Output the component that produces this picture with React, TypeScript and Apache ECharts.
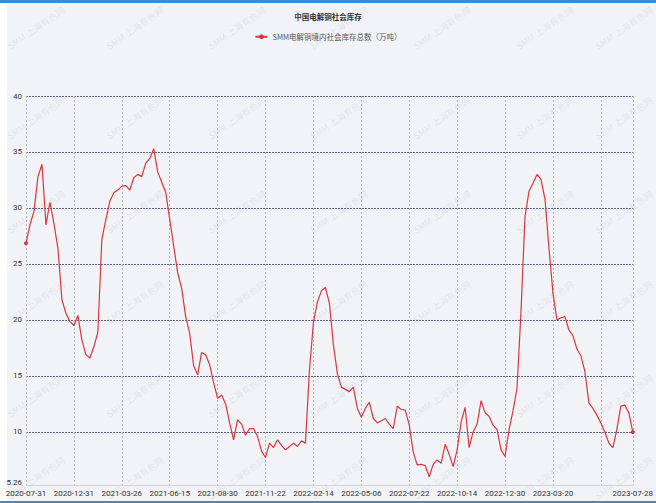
import React, { useEffect, useRef } from 'react';
import * as echarts from 'echarts';

const chartTitle = '中国电解铜社会库存';
const seriesName = 'SMM电解铜境内社会库存总数（万吨）';
const watermarkText = 'SMM 上海有色网';

const categories = [
  '2020-07-31', '2020-08-13', '2020-08-26', '2020-09-08', '2020-09-21', '2020-10-09', '2020-10-22', '2020-11-03', '2020-11-16', '2020-11-27', '2020-12-10', '2020-12-21', '2020-12-31',
  '2021-01-07', '2021-01-14', '2021-01-21', '2021-01-28', '2021-02-04', '2021-02-11', '2021-02-18', '2021-02-25', '2021-03-04', '2021-03-11', '2021-03-18', '2021-03-26',
  '2021-04-01', '2021-04-08', '2021-04-15', '2021-04-22', '2021-04-29', '2021-05-06', '2021-05-13', '2021-05-20', '2021-05-27', '2021-06-03', '2021-06-10', '2021-06-15',
  '2021-06-21', '2021-06-28', '2021-07-05', '2021-07-12', '2021-07-19', '2021-07-26', '2021-08-02', '2021-08-09', '2021-08-16', '2021-08-19', '2021-08-23', '2021-08-30',
  '2021-09-06', '2021-09-13', '2021-09-20', '2021-09-27', '2021-10-08', '2021-10-11', '2021-10-18', '2021-10-25', '2021-11-01', '2021-11-08', '2021-11-15', '2021-11-22',
  '2021-11-29', '2021-12-06', '2021-12-13', '2021-12-20', '2021-12-27', '2022-01-03', '2022-01-10', '2022-01-17', '2022-01-24', '2022-01-31', '2022-02-07', '2022-02-14',
  '2022-02-21', '2022-02-28', '2022-03-07', '2022-03-14', '2022-03-21', '2022-03-28', '2022-04-04', '2022-04-11', '2022-04-18', '2022-04-25', '2022-04-29', '2022-05-06',
  '2022-05-12', '2022-05-19', '2022-05-26', '2022-06-02', '2022-06-09', '2022-06-16', '2022-06-23', '2022-06-30', '2022-07-07', '2022-07-11', '2022-07-18', '2022-07-22',
  '2022-07-29', '2022-08-05', '2022-08-12', '2022-08-19', '2022-08-26', '2022-09-02', '2022-09-09', '2022-09-16', '2022-09-23', '2022-09-30', '2022-10-07', '2022-10-14',
  '2022-10-20', '2022-10-27', '2022-11-03', '2022-11-10', '2022-11-17', '2022-11-24', '2022-12-01', '2022-12-08', '2022-12-15', '2022-12-19', '2022-12-22', '2022-12-30',
  '2023-01-05', '2023-01-12', '2023-01-19', '2023-01-30', '2023-02-02', '2023-02-09', '2023-02-16', '2023-02-23', '2023-03-02', '2023-03-09', '2023-03-16', '2023-03-20',
  '2023-03-27', '2023-04-03', '2023-04-10', '2023-04-17', '2023-04-24', '2023-05-04', '2023-05-11', '2023-05-18', '2023-05-25', '2023-06-01', '2023-06-05', '2023-06-08',
  '2023-06-12', '2023-06-19', '2023-06-26', '2023-07-03', '2023-07-10', '2023-07-17', '2023-07-24', '2023-07-28',
];

const inventory = [
  26.85, 28.5, 29.7, 32.8, 33.9, 28.5, 30.5, 28.6, 26.4, 21.8, 20.6, 19.85, 19.5,
  20.4, 18.2, 16.9, 16.6, 17.6, 18.9, 27.2, 28.95, 30.6, 31.35, 31.6, 31.95,
  32.0, 31.6, 32.7, 33.0, 32.8, 34.0, 34.4, 35.3, 33.2, 32.3, 31.4, 29.0,
  26.6, 24.2, 22.8, 20.3, 18.8, 15.9, 15.1, 17.1, 16.9, 16.0, 14.4, 13.0,
  13.3, 12.5, 10.8, 9.3, 11.1, 10.7, 9.7, 10.3, 10.3, 9.6, 8.3, 7.7,
  9.0, 8.6, 9.3, 8.8, 8.4, 8.7, 9.0, 8.7, 9.2, 9.0, 15.5, 19.8,
  21.6, 22.6, 22.9, 21.5, 17.8, 15.2, 14.0, 13.8, 13.6, 14.0, 12.1, 11.3,
  12.1, 12.65, 11.2, 10.8, 11.0, 11.2, 10.7, 10.3, 12.3, 12.0, 11.95, 10.6,
  8.2, 7.05, 7.1, 7.0, 6.0, 7.1, 7.5, 7.2, 8.9, 8.0, 6.9, 8.4,
  10.9, 12.2, 8.6, 10.0, 10.7, 12.8, 11.7, 11.4, 10.6, 10.2, 8.4, 7.8,
  10.2, 11.9, 13.9, 20.8, 29.25, 31.5, 32.2, 33.0, 32.55, 30.8, 26.4, 22.4,
  20.0, 20.2, 20.3, 19.1, 18.6, 17.4, 16.8, 15.4, 12.6, 12.1, 11.5, 10.8,
  10.0, 9.0, 8.6, 10.2, 12.3, 12.4, 11.7, 10.0,
];

const yMin = 5.26;
const yMax = 40;
const labelStep = 12;
const hiddenLabelIndex = 144;

const wmCols = [36, 135, 237, 339, 442, 545, 624];
const wmRows = [28, 118, 212, 302, 396, 478];

const axisFont = "Roboto, 'Noto Sans', sans-serif";
const cjkFont = "'Noto Sans CJK SC', 'Noto Sans', sans-serif";

export default function App() {
  const ref = useRef<HTMLDivElement>(null);

  useEffect(() => {
    if (!ref.current) return;
    const chart = echarts.init(ref.current, undefined, { renderer: 'svg' });
    const last = categories.length - 1;

    const watermarks: any[] = [];
    wmRows.forEach((y) => {
      wmCols.forEach((x) => {
        watermarks.push({
          type: 'text',
          x,
          y,
          rotation: 0.6,
          z: 0,
          silent: true,
          style: {
            text: watermarkText,
            align: 'center',
            verticalAlign: 'middle',
            fontSize: 9,
            fontFamily: cjkFont,
            fill: 'rgba(130,138,150,0.16)',
          },
        });
      });
    });

    chart.setOption({
      animation: false,
      backgroundColor: '#f2f3f6',
      title: {
        text: chartTitle,
        left: 'center',
        top: 8,
        textStyle: { fontSize: 7.5, fontWeight: 'bold', color: '#333', fontFamily: cjkFont },
      },
      legend: {
        data: [seriesName],
        top: 28,
        left: 'center',
        itemWidth: 12,
        itemHeight: 6,
        itemGap: 4,
        textStyle: { fontSize: 7.5, color: '#555', fontFamily: cjkFont },
      },
      graphic: [
        ...watermarks,
        { type: 'rect', shape: { x: 0, y: 0, width: 7, height: 503 }, style: { fill: '#ffffff' }, z: -1, silent: true },
        { type: 'rect', shape: { x: 0, y: 0, width: 656, height: 3 }, style: { fill: '#3d8bd1' }, z: 10, silent: true },
        { type: 'rect', shape: { x: 0, y: 501, width: 656, height: 2 }, style: { fill: '#3d8bd1' }, z: 10, silent: true },
      ],
      grid: { left: 26, right: 18, top: 96, bottom: 18, containLabel: false },
      xAxis: {
        type: 'category',
        data: categories,
        boundaryGap: false,
        axisLine: { show: true, lineStyle: { color: '#cfd3da', width: 1 } },
        axisTick: { show: false },
        axisLabel: {
          interval: (i: number) => (i % labelStep === 0 && i !== hiddenLabelIndex) || i === last,
          fontSize: 8,
          color: '#333',
          fontFamily: axisFont,
          margin: 4,
        },
        splitLine: {
          show: true,
          interval: (i: number) => i % labelStep === 0 || i === last,
          lineStyle: { color: '#b0b4c0', type: [2, 2], width: 1 },
        },
      },
      yAxis: {
        type: 'value',
        min: yMin,
        max: yMax,
        splitNumber: 7,
        axisLine: { show: false },
        axisTick: { show: false },
        axisLabel: {
          fontSize: 8,
          color: '#333',
          fontFamily: axisFont,
          margin: 4,
          formatter: (v: number) => (v === yMin ? `{lo|${v}}` : `${v}`),
          rich: { lo: { fontSize: 8, color: '#333', fontFamily: axisFont, padding: [0, 0, 6, 0] } },
        },
        splitLine: { show: true, showMinLine: false, lineStyle: { color: '#5f6387', type: [2, 1], width: 1 } },
      },
      series: [
        {
          name: seriesName,
          type: 'line',
          data: inventory,
          symbol: 'circle',
          showSymbol: true,
          showAllSymbol: true,
          symbolSize: (_v: any, p: any) => (p.dataIndex === 0 || p.dataIndex === last ? 4 : 0),
          itemStyle: { color: '#d9363e' },
          lineStyle: { color: '#d9363e', width: 1.2 },
          z: 3,
        },
      ],
    });

    return () => chart.dispose();
  }, []);

  return (
    <div
      ref={ref}
      style={{ position: 'fixed', left: 0, top: 0, width: 656, height: 503 }}
    />
  );
}
